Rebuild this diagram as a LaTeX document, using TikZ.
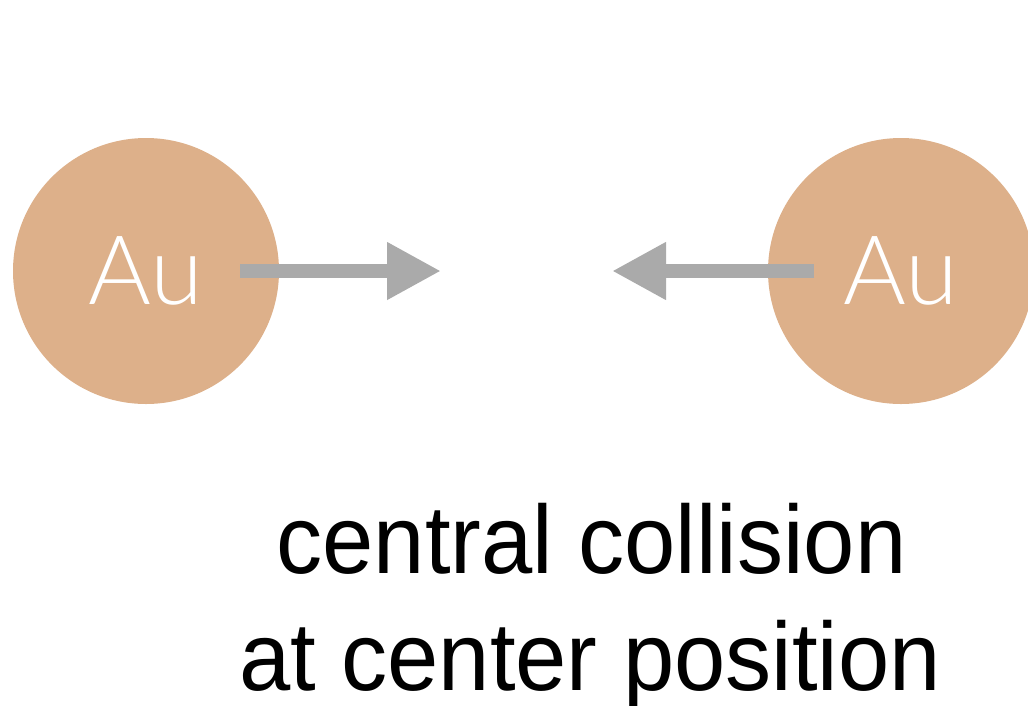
\documentclass[tikz,border=0pt]{standalone}
\usepackage{fontspec}
\setmainfont{Liberation Sans}
\newfontfamily\thinfont{Lato}[UprightFont=* Light]
\usetikzlibrary{arrows.meta}
\definecolor{gold}{HTML}{DDB08A}
\definecolor{arrowgray}{HTML}{AAAAAA}
\tikzset{
  nucleus/.style={circle, fill=gold, minimum size=266pt, inner sep=0pt,
    text=white, font=\thinfont\fontsize{96}{96}\selectfont},
  motion/.style={draw=arrowgray, line width=14pt,
    -{Triangle[length=54pt, width=54pt]}},
  caption/.style={anchor=base, inner sep=0pt, xscale=0.95,
    font=\fontsize{97}{97}\selectfont}
}
\begin{document}
\begin{tikzpicture}[x=1pt, y=-1pt]
  \useasboundingbox (0,0) rectangle (1028,705);
  \clip (0,0) rectangle (1028,705);
  % two gold nuclei
  \node[nucleus] (left) at (146,271) {Au};
  \node[nucleus] (right) at (901,271) {Au};
  % arrow start and end points
  \coordinate (lstart) at (240,271);
  \coordinate (lend) at (441,271);
  \coordinate (rstart) at (814,271);
  \coordinate (rend) at (612,271);
  \draw[motion] (lstart) -- (lend);
  \draw[motion] (rstart) -- (rend);
  % caption
  \node[caption] (cap1) at (591.5,573) {central collision};
  \node[caption] (cap2) at (590,690) {at center position};
\end{tikzpicture}
\end{document}
